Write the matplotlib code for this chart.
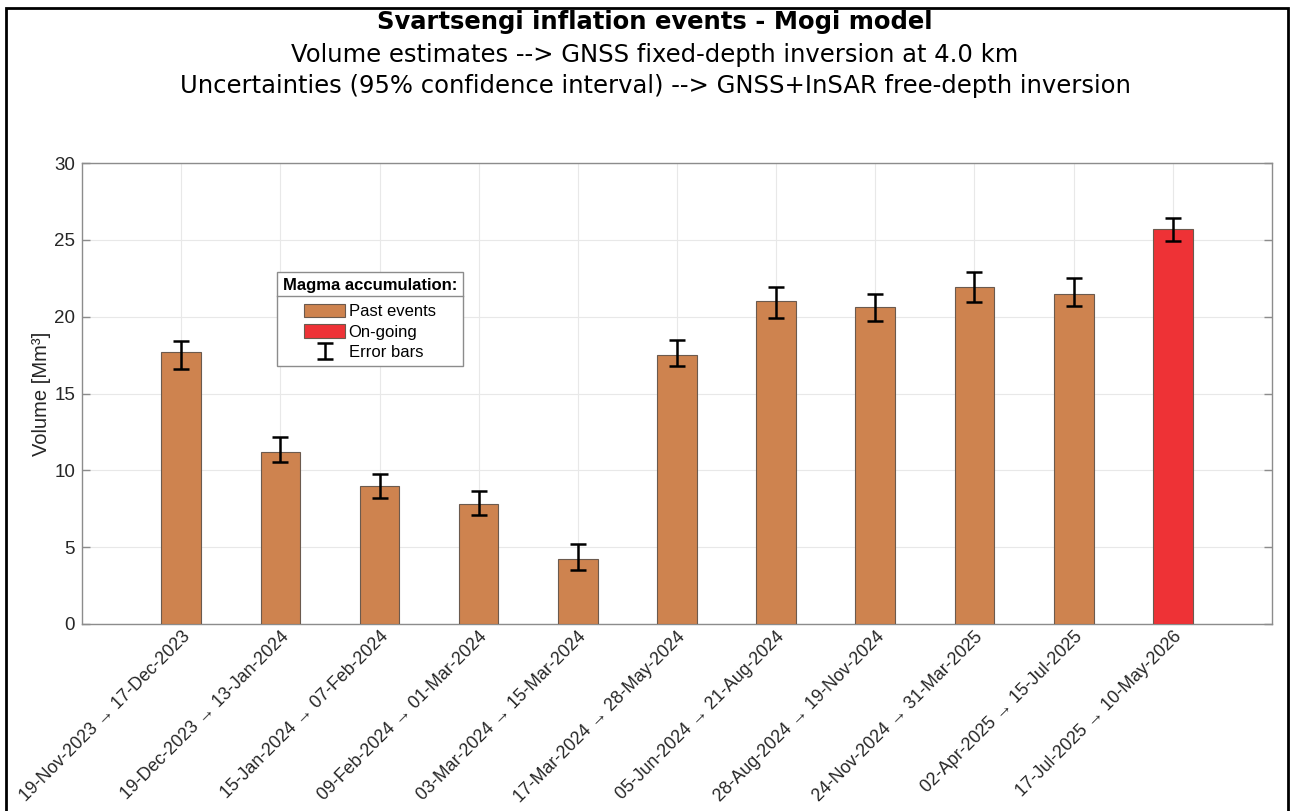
import matplotlib
matplotlib.use("Agg")
import matplotlib.pyplot as plt
from matplotlib.patches import Rectangle, Patch
from matplotlib.lines import Line2D
from matplotlib.transforms import ScaledTranslation
import numpy as np

categories = ["19-Nov-2023 \u2192 17-Dec-2023", "19-Dec-2023 \u2192 13-Jan-2024",
              "15-Jan-2024 \u2192 07-Feb-2024", "09-Feb-2024 \u2192 01-Mar-2024",
              "03-Mar-2024 \u2192 15-Mar-2024", "17-Mar-2024 \u2192 28-May-2024",
              "05-Jun-2024 \u2192 21-Aug-2024", "28-Aug-2024 \u2192 19-Nov-2024",
              "24-Nov-2024 \u2192 31-Mar-2025", "02-Apr-2025 \u2192 15-Jul-2025",
              "17-Jul-2025 \u2192 10-May-2026"]
volumes = [17.7, 11.2, 9.0, 7.8, 4.2, 17.5, 21.0, 20.6, 21.9, 21.5, 25.7]
err_low = [16.6, 10.55, 8.2, 7.1, 3.5, 16.8, 19.9, 19.75, 20.95, 20.7, 24.95]
err_high = [18.4, 12.2, 9.75, 8.65, 5.2, 18.5, 21.9, 21.5, 22.9, 22.5, 26.45]
ongoing = [False] * 10 + [True]

past_color = "#CE834F"
ongoing_color = "#EE3236"
edge_color = "#6b5a4e"
axis_color = "#8c8c8c"
text_color = "#262626"

fig = plt.figure(figsize=(12.91, 8.11), dpi=100)
ax = fig.add_axes([82/1291, 1-624/811, (1272-82)/1291, (624-163)/811])

x = np.arange(1, len(volumes) + 1)
colors = [ongoing_color if o else past_color for o in ongoing]
ax.bar(x, volumes, width=0.4, color=colors, edgecolor=edge_color, linewidth=0.8, zorder=3)
yerr = [np.array(volumes) - np.array(err_low), np.array(err_high) - np.array(volumes)]
eb = ax.errorbar(x, volumes, yerr=yerr, fmt="none", ecolor="black", elinewidth=1.8,
                 capsize=6, capthick=1.8, zorder=4)

ax.set_xlim(0, 12)
ax.set_ylim(0, 30)
ax.set_yticks(range(0, 31, 5))
ax.set_xticks(x)
ax.set_xticklabels(categories, rotation=45, ha="right", va="top", rotation_mode="anchor",
                   fontsize=12.8, family="Liberation Sans", color=text_color)
offset = ScaledTranslation(10/100, 0, fig.dpi_scale_trans)
for lab in ax.get_xticklabels():
    lab.set_transform(lab.get_transform() + offset)
for lab in ax.get_yticklabels():
    lab.set_fontsize(13.5)
    lab.set_family("Liberation Sans")
    lab.set_color(text_color)
ax.tick_params(axis="both", direction="in", length=6, color=axis_color, width=1,
               right=True, top=False, pad=5)
ax.tick_params(axis="x", pad=3)
ax.grid(True, color="#e8e8e8", linewidth=0.8, zorder=0)
ax.set_axisbelow(True)
for s in ax.spines.values():
    s.set_color(axis_color)
    s.set_linewidth(1.0)
ax.set_ylabel("Volume [Mm\u00b3]", fontsize=14.5, family="Liberation Sans", color=text_color, labelpad=2)

handles = [Patch(facecolor=past_color, edgecolor=edge_color, linewidth=0.8),
           Patch(facecolor=ongoing_color, edgecolor=edge_color, linewidth=0.8),
           eb]
leg = ax.legend(handles, ["Past events", "On-going", "Error bars"],
                title="Magma accumulation:", loc="upper left",
                bbox_to_anchor=((277-82)/1190, (624-272)/461), borderaxespad=0,
                fancybox=False, framealpha=1, edgecolor=axis_color,
                prop={"family": "Liberation Sans", "size": 12},
                handlelength=2.45, handleheight=0.85, handletextpad=0.2,
                labelspacing=0.3, borderpad=0.35)
leg.get_title().set_fontweight("bold")
leg.get_title().set_fontsize(12)
leg.get_title().set_family("Liberation Sans")
leg.get_frame().set_linewidth(1.0)
leg._legend_box.sep = 8

fig.text(655/1291, 1-22/811, "Svartsengi inflation events - Mogi model", ha="center", va="center",
         fontsize=17.5, fontweight="bold", family="DejaVu Sans")
fig.text(655/1291, 1-55/811, "Volume estimates --> GNSS fixed-depth inversion at 4.0 km",
         ha="center", va="center", fontsize=17.5, family="DejaVu Sans")
fig.text(655/1291, 1-86/811, "Uncertainties (95% confidence interval) --> GNSS+InSAR free-depth inversion",
         ha="center", va="center", fontsize=17.5, family="DejaVu Sans")

fig.patches.append(Rectangle((6/1291, -0.05), (1288-6)/1291, 1-8/811+0.05, transform=fig.transFigure,
                             fill=False, edgecolor="black", linewidth=2))

fig.canvas.draw()
r = fig.canvas.get_renderer()
tb = leg.get_title().get_window_extent(r)
fb = leg.get_frame().get_window_extent(r)
yline = tb.y0 - 3
fig.add_artist(Line2D([fb.x0, fb.x1], [yline, yline], transform=None, color=axis_color, lw=1.0))

fig.savefig("out.png", dpi=100)
